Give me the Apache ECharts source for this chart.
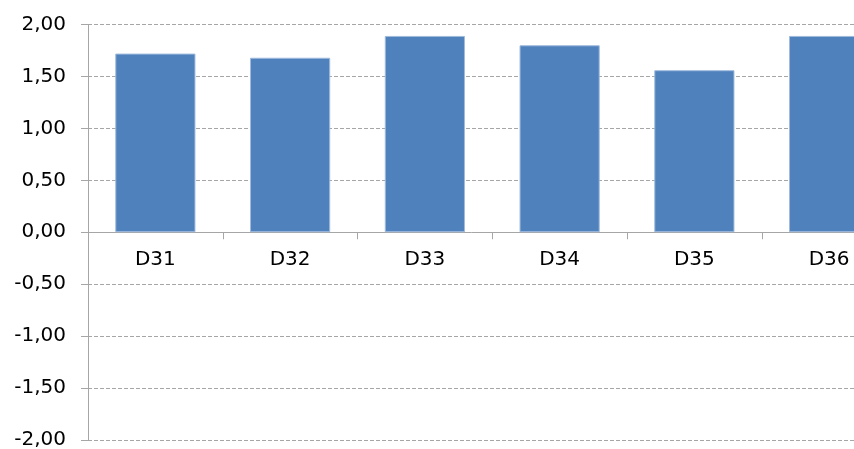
<!DOCTYPE html>
<html>
<head>
<meta charset="utf-8">
<script src="https://cdn.jsdelivr.net/npm/echarts@6/dist/echarts.min.js"></script>
<style>
  html, body { margin: 0; padding: 0; background: #fff; }
  #chart { width: 854px; height: 449px; }
</style>
</head>
<body>
<div id="chart"></div>
<script>
const categories = ['D31', 'D32', 'D33', 'D34', 'D35', 'D36']
const values = [1.72, 1.68, 1.89, 1.80, 1.56, 1.89]

const AXIS_GRAY = '#a6a6a6'
const FONT = 'DejaVu Sans'

const GRID_TOP = 24.5
const GRID_H = 415.5

const chart = echarts.init(document.getElementById('chart'))

chart.setOption({
  animation: false,
  backgroundColor: '#fff',
  // last category runs past the right edge, like the original crop
  grid: {
    left: 88, top: GRID_TOP, width: 808.5, height: GRID_H,
    containLabel: false, outerBoundsMode: 'none',
  },
  xAxis: {
    type: 'category',
    data: categories,
    // category axis sits on the zero line, half way up the plot
    offset: -GRID_H / 2,
    axisLine: { onZero: false, lineStyle: { color: AXIS_GRAY, width: 1 } },
    axisTick: { show: true, length: 7, lineStyle: { color: AXIS_GRAY } },
    axisLabel: { color: '#000', fontFamily: FONT, fontSize: 20, margin: 18, interval: 0 },
    splitLine: { show: false },
  },
  yAxis: {
    type: 'value',
    min: -2,
    max: 2,
    interval: 0.5,
    axisLine: { show: true, lineStyle: { color: AXIS_GRAY, width: 1 } },
    axisTick: { show: true, length: 7, lineStyle: { color: AXIS_GRAY } },
    axisLabel: {
      color: '#000',
      fontFamily: FONT,
      fontSize: 20,
      margin: 22,
      formatter: (v) => v.toFixed(2).replace('.', ','),
    },
    splitLine: { show: true, lineStyle: { color: AXIS_GRAY, type: [4, 2], width: 1 } },
  },
  series: [
    {
      type: 'bar',
      data: values,
      barWidth: '59.5%',
      itemStyle: { color: '#4f81bd', borderColor: '#9fbadc', borderWidth: 1 },
    },
  ],
})
</script>
</body>
</html>
